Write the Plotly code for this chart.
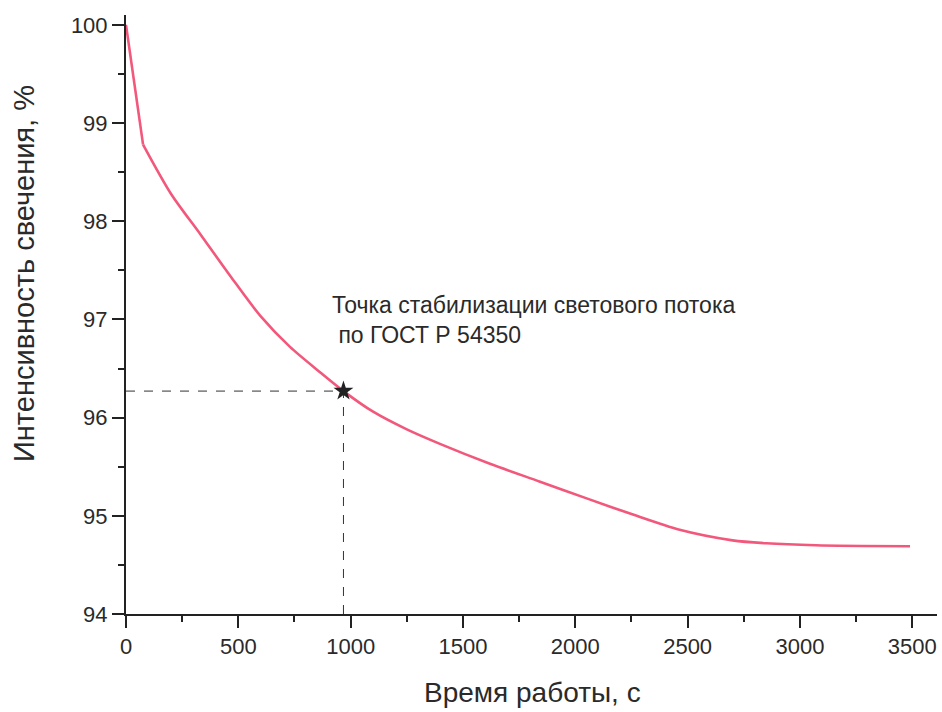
import plotly.graph_objects as go

time_s = [0, 76, 200, 330, 465, 600, 730, 865, 968, 1100, 1250, 1400, 1620, 1840,
          2060, 2260, 2460, 2700, 2850, 3070, 3490]
intensity = [100.0, 98.78, 98.28, 97.87, 97.44, 97.03, 96.72, 96.46, 96.27, 96.06,
             95.88, 95.73, 95.53, 95.35, 95.17, 95.01, 94.86, 94.75, 94.72, 94.70, 94.69]

stab_x = [968]
stab_y = [96.27]

x_ticks = [0, 500, 1000, 1500, 2000, 2500, 3000, 3500]
y_ticks = [94, 95, 96, 97, 98, 99, 100]

note = "Точка стабилизации светового потока<br> по ГОСТ Р 54350"
x_title = "Время работы, с"
y_title = "Интенсивность свечения, %"

FONT = "Liberation Sans, Arial, sans-serif"
TXT = "#2a2a2a"
CURVE = "#f2587b"

fig = go.Figure()

# dashed guide lines
fig.add_trace(go.Scatter(x=[0, stab_x[0]], y=[stab_y[0], stab_y[0]], mode="lines",
                         line=dict(color="#333333", width=1, dash="dash"),
                         showlegend=False, hoverinfo="skip"))
fig.add_trace(go.Scatter(x=[stab_x[0], stab_x[0]], y=[94, stab_y[0]], mode="lines",
                         line=dict(color="#333333", width=1, dash="dash"),
                         showlegend=False, hoverinfo="skip"))

# initial steep drop (straight) and smooth decay afterwards
fig.add_trace(go.Scatter(x=time_s[:2], y=intensity[:2], mode="lines",
                         line=dict(color=CURVE, width=2.6), showlegend=False))
fig.add_trace(go.Scatter(x=time_s[1:], y=intensity[1:], mode="lines",
                         line=dict(color=CURVE, width=2.6, shape="spline", smoothing=0.8),
                         showlegend=False))

fig.add_trace(go.Scatter(x=stab_x, y=stab_y, mode="markers",
                         marker=dict(symbol="star", size=15, color="#222222"),
                         showlegend=False))

axis_common = dict(showgrid=False, zeroline=False, showline=True, linecolor="#222222",
                   linewidth=2, ticks="outside", tickcolor="#222222", tickwidth=1.5,
                   ticklen=12, tickfont=dict(family=FONT, size=22, color=TXT),
                   mirror=False, automargin=False)

fig.update_xaxes(range=[0, 3610], tickvals=x_ticks, **axis_common,
                 minor=dict(ticks="outside", ticklen=6, dtick=250, tick0=0,
                            tickcolor="#222222", tickwidth=1.5))
fig.update_yaxes(range=[94, 100.1], tickvals=y_ticks, **axis_common,
                 minor=dict(ticks="outside", ticklen=6, dtick=0.5, tick0=94,
                            tickcolor="#222222", tickwidth=1.5))

W, H = 942, 712
l, r, t, b = 126, 5, 15, 98
pw, ph = W - l - r, H - t - b

def px(xp):
    return (xp - l) / pw

def py(yp):
    return (H - b - yp) / ph

fig.update_layout(
    width=W, height=H,
    margin=dict(l=l, r=r, t=t, b=b),
    paper_bgcolor="white", plot_bgcolor="white",
)

fig.add_annotation(text=note, x=px(330), y=py(320), xref="paper", yref="paper",
                   showarrow=False, align="left", xanchor="left", yanchor="middle",
                   font=dict(family=FONT, size=23, color=TXT))
fig.add_annotation(text=x_title, x=px(532), y=py(692), xref="paper", yref="paper",
                   showarrow=False, xanchor="center", yanchor="middle",
                   font=dict(family=FONT, size=28, color=TXT))
fig.add_annotation(text=y_title, x=px(24), y=py(274), xref="paper", yref="paper",
                   showarrow=False, xanchor="center", yanchor="middle", textangle=-90,
                   font=dict(family=FONT, size=29, color=TXT))

fig.write_html("out.html", config={"displayModeBar": False},
               post_script="document.body.style.margin='0px';document.body.style.overflow='hidden';")
